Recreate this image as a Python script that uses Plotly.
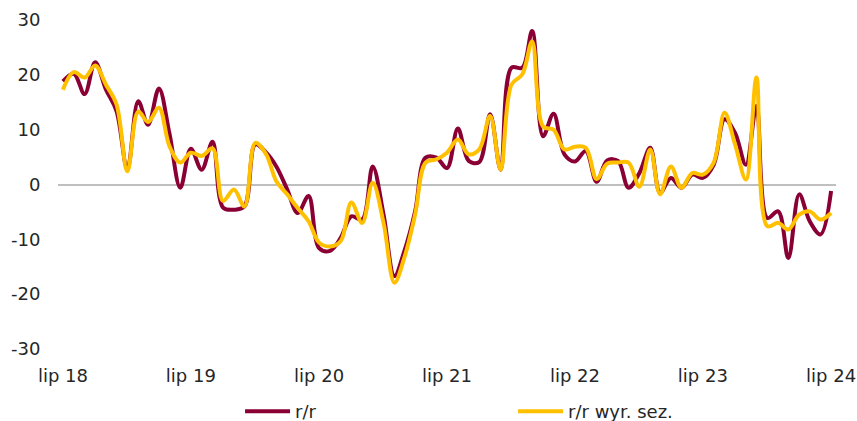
import pandas as pd
import plotly.graph_objects as go

months = pd.date_range("2018-07-01", periods=73, freq="MS")

rr = [18.8, 20.2, 16.5, 22.3, 17.3, 13.4, 2.8, 15.2, 10.9, 17.5, 9.3, -0.6,
      6.5, 2.7, 7.8, -4.2, -4.6, -4.0, 7.3, 5.8, 3.3, -0.9, -5.2, -2.1,
      -11.6, -12.1, -9.7, -5.8, -6.4, 3.3, -5.5, -16.7, -12.2, -4.9, 4.9, 4.9,
      3.0, 10.2, 4.3, 4.1, 12.8, 2.7, 21.3, 21.3, 28.0, 8.8, 12.9, 5.5,
      4.2, 6.1, 0.5, 4.4, 4.3, -0.6, 2.1, 6.7, -1.5, 1.2, -0.6, 1.8,
      1.2, 3.6, 11.9, 9.4, 3.6, 14.3, -6.1, -4.9, -13.4, -1.8, -6.7, -9.1,
      -1.2]

rr_sa = [17.3, 20.5, 19.5, 21.7, 18.2, 14.6, 2.4, 13.3, 11.4, 14.0, 7.0, 4.0,
         5.8, 5.2, 6.6, -3.0, -0.9, -4.0, 7.6, 5.5, 0.6, -1.8, -4.3, -6.7,
         -10.6, -11.3, -10.3, -3.3, -7.0, 0.3, -7.0, -17.9, -13.4, -5.5, 4.0, 4.6,
         5.8, 8.2, 5.5, 6.4, 12.5, 2.7, 18.2, 20.1, 26.1, 10.6, 10.0, 6.4,
         6.9, 6.7, 1.0, 3.8, 4.0, 4.0, -0.4, 6.4, -1.8, 3.3, -0.6, 2.1,
         1.8, 4.0, 13.1, 7.3, 0.9, 19.5, -7.6, -7.0, -8.2, -5.5, -4.9, -6.4,
         -5.2]

x_tick_vals = pd.date_range("2018-07-01", periods=7, freq="12MS")
x_tick_text = ["lip 18", "lip 19", "lip 20", "lip 21", "lip 22", "lip 23", "lip 24"]
y_tick_vals = [-30, -20, -10, 0, 10, 20, 30]
y_tick_text = ["-30", "-20", "-10", "0", "10", "20", "30"]

FONT = "DejaVu Sans"

fig = go.Figure()
fig.add_trace(go.Scatter(x=months, y=rr, name="r/r", mode="lines",
                         line=dict(color="#8A0035", width=4, shape="spline", smoothing=1)))
fig.add_trace(go.Scatter(x=months, y=rr_sa, name="r/r wyr. sez.", mode="lines",
                         line=dict(color="#FFC000", width=4, shape="spline", smoothing=1)))

fig.update_layout(
    width=857, height=421,
    margin=dict(l=58, r=21, t=20, b=72, autoexpand=False),
    paper_bgcolor="white", plot_bgcolor="white",
    font=dict(family=FONT, size=18, color="#262626"),
    showlegend=True,
    hovermode=False,
    legend=dict(orientation="h", x=0.234, xanchor="left", y=-0.19, yanchor="middle",
                entrywidth=213, entrywidthmode="pixels", itemwidth=45,
                font=dict(family=FONT, size=18, color="#262626")),
    xaxis=dict(range=["2018-06-17", "2024-07-15"], tickvals=x_tick_vals, ticktext=x_tick_text,
               showgrid=False, zeroline=False, showline=False, automargin=False,
               ticks="outside", ticklen=10, tickcolor="rgba(0,0,0,0)"),
    yaxis=dict(range=[-30, 30], tickvals=y_tick_vals, ticktext=y_tick_text,
               showgrid=False, zeroline=True, zerolinecolor="#BFBFBF", zerolinewidth=1.5,
               showline=False, automargin=False,
               ticks="outside", ticklen=13, tickcolor="rgba(0,0,0,0)"),
)

fig.write_html("out.html",
               config={"displayModeBar": False},
               post_script="document.body.style.margin='0px';document.body.style.overflow='hidden';")
